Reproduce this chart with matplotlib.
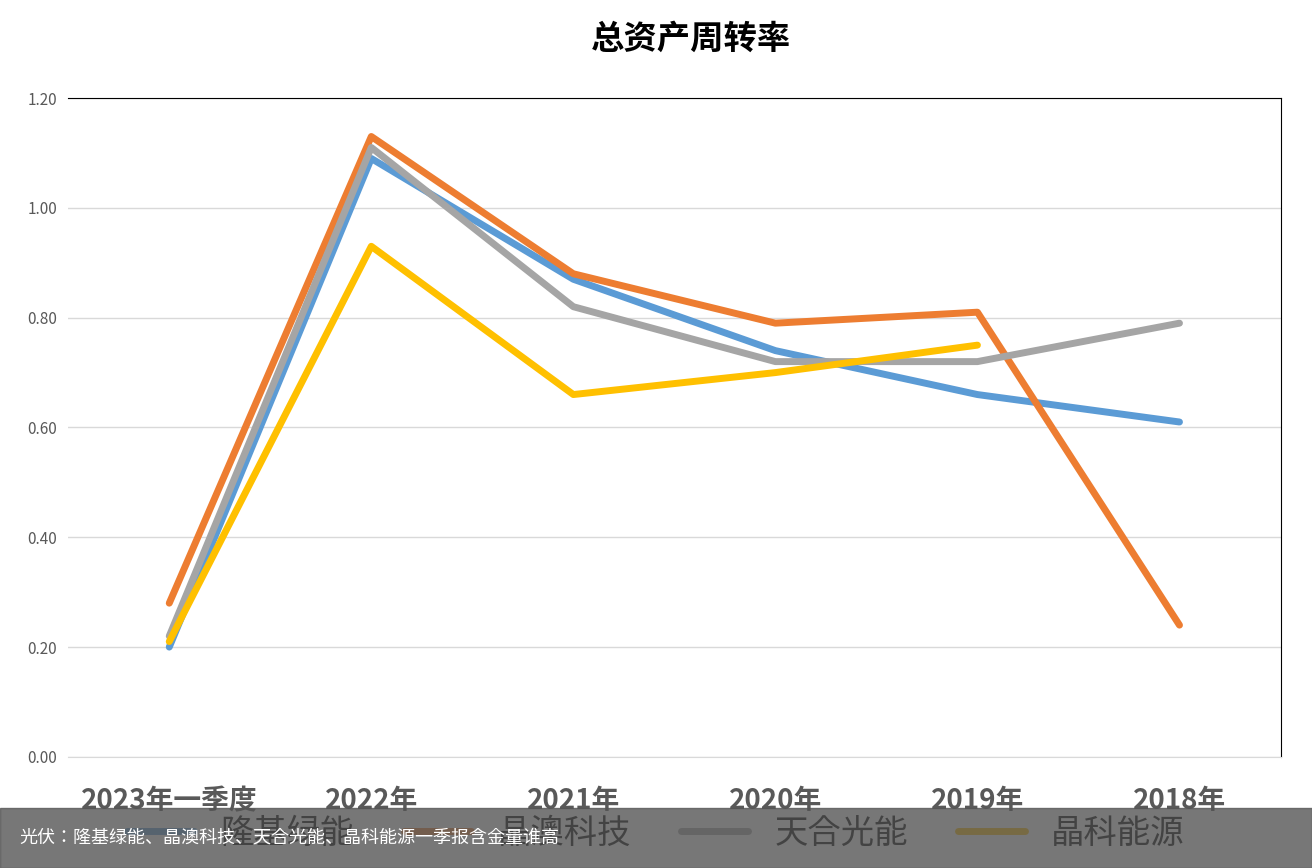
import matplotlib.pyplot as plt
from matplotlib.patches import Rectangle
from matplotlib import font_manager
import numpy as np

avail = {f.name for f in font_manager.fontManager.ttflist}
cjk = [f for f in ["Noto Sans CJK SC", "Noto Sans CJK JP", "Noto Sans CJK TC", "Noto Sans CJK KR"] if f in avail]
plt.rcParams["font.family"] = "sans-serif"
plt.rcParams["font.sans-serif"] = cjk + ["DejaVu Sans"]

categories = ["2023年一季度", "2022年", "2021年", "2020年", "2019年", "2018年"]
longi = [0.20, 1.09, 0.87, 0.74, 0.66, 0.61]
jaso = [0.28, 1.13, 0.88, 0.79, 0.81, 0.24]
trina = [0.22, 1.11, 0.82, 0.72, 0.72, 0.79]
jinko = [0.21, 0.93, 0.66, 0.70, 0.75, np.nan]
names = ["隆基绿能", "晶澳科技", "天合光能", "晶科能源"]
colors = ["#5b9bd5", "#ed7d31", "#a5a5a5", "#ffc000"]

fig = plt.figure(figsize=(13.12, 8.68), dpi=100)
ax = fig.add_axes([0.052, 0.128, 0.924, 0.759])
x = np.arange(len(categories))
for ys, n, c in zip([longi, jaso, trina, jinko], names, colors):
    ax.plot(x, ys, color=c, lw=5, label=n, solid_capstyle="round")

ax.set_xlim(-0.5, 5.5)
ax.set_ylim(0, 1.2)
ax.set_yticks(np.arange(0, 1.21, 0.2))
ax.set_yticklabels([f"{v:.2f}" for v in np.arange(0, 1.21, 0.2)], fontsize=11, color="#595959")
ax.set_xticks(x)
ax.set_xticklabels(categories, fontsize=20, fontweight="bold", color="#595959")
ax.tick_params(axis="x", length=0, pad=22)
ax.tick_params(axis="y", length=0, pad=8)
ax.grid(axis="y", color="#d9d9d9", lw=1)
ax.set_axisbelow(True)
for s in ["top", "right"]:
    ax.spines[s].set_color("black")
ax.spines["left"].set_visible(False)
ax.spines["bottom"].set_color("#d9d9d9")
fig.text(0.527, 0.955, "总资产周转率", ha="center", va="center", fontsize=24, fontweight="bold")

fig.legend(loc="center", bbox_to_anchor=(0.5, 0.04), ncol=4, frameon=False,
           handlelength=2, columnspacing=1.5, prop={"size": 24})
fig.patches.append(Rectangle((0, 0), 1, 0.069, transform=fig.transFigure, color="#555555", alpha=0.8, zorder=10))
fig.text(0.015, 0.035, "光伏：隆基绿能、晶澳科技、天合光能、晶科能源一季报含金量谁高", color="white",
         fontsize=13, va="center", zorder=11)
fig.savefig("out.png", dpi=100)
